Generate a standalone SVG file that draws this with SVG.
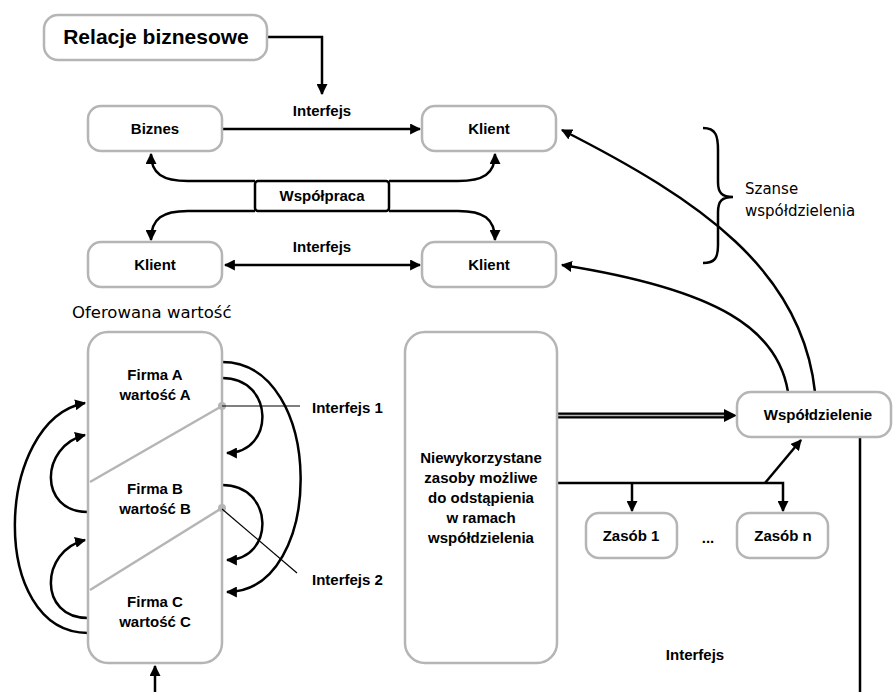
<svg xmlns="http://www.w3.org/2000/svg" width="893" height="692" viewBox="0 0 893 692">
  <style>
    .box { fill: #fff; stroke: #b5b5b5; stroke-width: 2.5; }
    .wire { fill: none; stroke: #000; stroke-width: 2.5; }
    .thin { fill: none; stroke: #000; stroke-width: 1.2; }
    .split { fill: none; stroke: #b5b5b5; stroke-width: 2.5; }
    .lbl { font-family: "Liberation Sans", Arial, sans-serif; font-weight: bold; font-size: 15px; fill: #000; text-anchor: middle; }
    .plain { font-family: "DejaVu Sans", Verdana, sans-serif; font-size: 15px; fill: #000; }
  </style>
  <defs>
    <marker id="arr" viewBox="0 0 10 10" refX="9" refY="5" markerUnits="userSpaceOnUse" markerWidth="11" markerHeight="11" orient="auto-start-reverse">
      <path d="M0,0 L10,5 L0,10 z" fill="#000"/>
    </marker>
  </defs>

  <rect width="893" height="692" fill="#fff"/>

  <!-- connectors -->
  <g id="connectors">
    <path class="wire" d="M267,37 H322 V94" marker-end="url(#arr)"/>
    <path class="wire" d="M222,129 H420" marker-end="url(#arr)"/>
    <path class="wire" d="M225,265 H420" marker-start="url(#arr)" marker-end="url(#arr)"/>
    <!-- cooperation branches -->
    <path class="wire" d="M255,181 H188 C163,181 151,174 151,154" marker-end="url(#arr)"/>
    <path class="wire" d="M389,181 H458 C483,181 495,174 495,154" marker-end="url(#arr)"/>
    <path class="wire" d="M255,211 H188 C163,211 151,218 151,240" marker-end="url(#arr)"/>
    <path class="wire" d="M389,211 H458 C483,211 495,218 495,240" marker-end="url(#arr)"/>
    <!-- sharing back to clients -->
    <path class="wire" d="M815,392 C802,270 700,200 562,130" marker-end="url(#arr)"/>
    <path class="wire" d="M788,392 C778,330 720,290 562,265" marker-end="url(#arr)"/>
    <!-- value loops, right side -->
    <path class="wire" d="M222,378 C275,378 275,453 227,453" marker-end="url(#arr)"/>
    <path class="wire" d="M222,485 C275,485 275,560 227,560" marker-end="url(#arr)"/>
    <path class="wire" d="M222,362 C326,362 326,592 227,592" marker-end="url(#arr)"/>
    <!-- value loops, left side -->
    <path class="wire" d="M88,633 C-12,633 -6,420 85,403" marker-end="url(#arr)"/>
    <path class="wire" d="M88,512 C38,512 40,446 85,435" marker-end="url(#arr)"/>
    <path class="wire" d="M88,618 C38,618 40,551 85,540" marker-end="url(#arr)"/>
    <path class="wire" d="M155,692 V666" marker-end="url(#arr)"/>
    <!-- resources -->
    <path d="M557,415.5 H726" fill="none" stroke="#000" stroke-width="6"/>
    <path d="M557,415.5 H727" fill="none" stroke="#b5b5b5" stroke-width="1.6"/>
    <path d="M724,409 L737,415.5 L724,422 z" fill="#000"/>
    <path class="wire" d="M557,483 H783 V511" marker-end="url(#arr)"/>
    <path class="wire" d="M632,483 V511" marker-end="url(#arr)"/>
    <path class="wire" d="M765,483 L801,440" marker-end="url(#arr)"/>
    <path class="wire" d="M860,437 V692"/>
    <!-- brace -->
    <path class="wire" d="M703,128 C716,128 718,136 718,150 V182 C718,193 722,197 733,197 C722,197 718,201 718,212 V245 C718,258 715,263 703,263"/>
  </g>

  <g id="relacje">
    <rect class="box" x="44" y="15" width="223" height="45" rx="14"/>
    <text class="lbl" x="156" y="44" style="font-size:21px">Relacje biznesowe</text>
  </g>
  <text class="lbl" x="322" y="116">Interfejs</text>
  <g id="biznes">
    <rect class="box" x="88" y="106" width="134" height="45" rx="13"/>
    <text class="lbl" x="155" y="134">Biznes</text>
  </g>
  <g id="klient1">
    <rect class="box" x="422" y="106" width="134" height="45" rx="13"/>
    <text class="lbl" x="489" y="134">Klient</text>
  </g>
  <g id="wspolpraca">
    <rect x="255" y="181" width="134" height="30" rx="3" fill="#fff" stroke="#000" stroke-width="2.5"/>
    <text class="lbl" x="322" y="201">Współpraca</text>
  </g>
  <text class="lbl" x="322" y="252">Interfejs</text>
  <g id="klient2">
    <rect class="box" x="88" y="242" width="134" height="45" rx="13"/>
    <text class="lbl" x="155" y="270">Klient</text>
  </g>
  <g id="klient3">
    <rect class="box" x="422" y="242" width="134" height="45" rx="13"/>
    <text class="lbl" x="489" y="270">Klient</text>
  </g>
  <g id="szanse">
    <text class="plain" x="745" y="194">Szanse</text>
    <text class="plain" x="745" y="216">współdzielenia</text>
  </g>

  <text class="plain" x="72" y="318" style="font-size:16.5px">Oferowana wartość</text>
  <g id="firmy">
    <rect class="box" x="88" y="332" width="134" height="331" rx="20"/>
    <path class="split" d="M222,406 L90,482"/>
    <path class="split" d="M222,508 L90,590"/>
    <circle cx="222" cy="406" r="4" fill="#b5b5b5"/>
    <circle cx="222" cy="508" r="4" fill="#b5b5b5"/>
    <text class="lbl" x="155" y="380">Firma A</text>
    <text class="lbl" x="155" y="400">wartość A</text>
    <text class="lbl" x="155" y="494">Firma B</text>
    <text class="lbl" x="155" y="514">wartość B</text>
    <text class="lbl" x="155" y="607">Firma C</text>
    <text class="lbl" x="155" y="627">wartość C</text>
  </g>
  <g id="interfejsy">
    <path class="thin" d="M222,406 H300"/>
    <path class="thin" d="M222,509 L297,573"/>
    <text class="lbl" x="312" y="413" style="text-anchor:start">Interfejs 1</text>
    <text class="lbl" x="312" y="585" style="text-anchor:start">Interfejs 2</text>
  </g>

  <g id="zasoby">
    <rect class="box" x="405" y="332" width="152" height="331" rx="20"/>
    <text class="lbl" x="481" y="463">Niewykorzystane</text>
    <text class="lbl" x="481" y="483">zasoby możliwe</text>
    <text class="lbl" x="481" y="503">do odstąpienia</text>
    <text class="lbl" x="481" y="523">w ramach</text>
    <text class="lbl" x="481" y="543">współdzielenia</text>
  </g>
  <g id="wspoldzielenie">
    <rect class="box" x="737" y="392" width="154" height="45" rx="14"/>
    <text class="lbl" x="818" y="420">Współdzielenie</text>
  </g>
  <g id="zasob1">
    <rect class="box" x="586" y="513" width="91" height="45" rx="13"/>
    <text class="lbl" x="631" y="541">Zasób 1</text>
  </g>
  <text class="lbl" x="708" y="543">...</text>
  <g id="zasobn">
    <rect class="box" x="737" y="513" width="91" height="45" rx="13"/>
    <text class="lbl" x="783" y="541">Zasób n</text>
  </g>
  <text class="lbl" x="695" y="660">Interfejs</text>
</svg>
